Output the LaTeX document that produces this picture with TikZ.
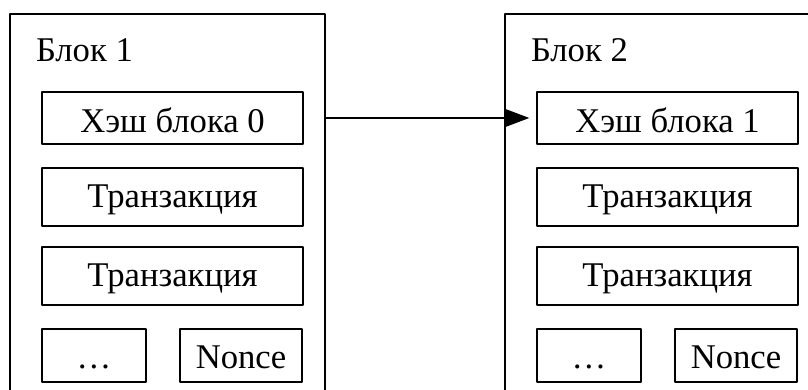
\documentclass[tikz,border=0pt]{standalone}
\usepackage{fontspec}
\setmainfont{Liberation Serif}
\usetikzlibrary{arrows.meta}
\begin{document}
\begin{tikzpicture}[x=0.3pt,y=-0.3pt,font=\fontsize{10.4}{12}\selectfont,line join=round,line width=0.6pt,>={Triangle[length=7.5pt,width=5.5pt]},
		blk/.style={draw,inner sep=0pt,minimum width=94.5pt,minimum height=121.8pt},
		cell/.style={draw,inner xsep=0pt,inner ysep=3.3pt,text height=8.7pt,minimum width=78.3pt},
		part/.style={draw,inner xsep=0pt,inner ysep=3.3pt,text height=8.7pt,text depth=0.6pt}]
				\useasboundingbox (0,0) rectangle (808,390);
				\clip (0,0) rectangle (808,390);
				% block 1
				\node[blk] (blk1) at (167.5,217) {};
				\node[anchor=base west,inner sep=0pt] (title1) at (35,62) {Блок 1};
				\node[cell] (hash1) at (172.5,118) {Хэш блока 0};
				\node[cell] (tx1a) at (172.5,197) {Транзакция};
				\node[cell] (tx1b) at (172.5,276) {Транзакция};
				\node[part,minimum width=31.2pt] (dots1) at (94,355.5) {\dots};
				\node[part,minimum width=36.6pt] (nonce1) at (241,355.5) {Nonce};
				% block 2
				\node[blk] (blk2) at (662.5,217) {};
				\node[anchor=base west,inner sep=0pt] (title2) at (530,62) {Блок 2};
				\node[cell] (hash2) at (667.5,118) {Хэш блока 1};
				\node[cell] (tx2a) at (667.5,197) {Транзакция};
				\node[cell] (tx2b) at (667.5,276) {Транзакция};
				\node[part,minimum width=31.2pt] (dots2) at (589,355.5) {\dots};
				\node[part,minimum width=36.6pt] (nonce2) at (736,355.5) {Nonce};
				\draw[->,shorten >=2pt] (blk1.east |- hash1) -- (hash2.west);
			\end{tikzpicture}
\end{document}
